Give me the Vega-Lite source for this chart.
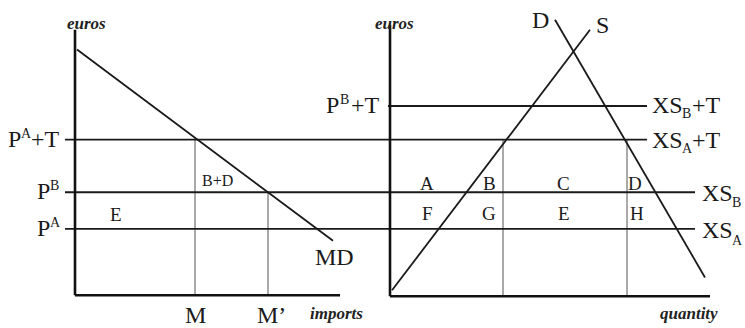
{
  "$schema": "https://vega.github.io/schema/vega-lite/v6.json",
  "width": 745,
  "height": 328,
  "autosize": {"type": "fit", "contains": "padding"},
  "padding": 0,
  "background": "white",
  "config": {"view": {"stroke": null}},
  "datasets": {
    "segments": [
      {"kind": "axis", "name": "left price axis", "x1": 75, "y1": 30, "x2": 75, "y2": 298},
      {"kind": "axis", "name": "left quantity axis", "x1": 75, "y1": 298, "x2": 340, "y2": 298},
      {"kind": "axis", "name": "right price axis", "x1": 390, "y1": 25, "x2": 390, "y2": 299},
      {"kind": "axis", "name": "right quantity axis", "x1": 390, "y1": 299, "x2": 710, "y2": 299},
      {"kind": "curve", "name": "MD", "x1": 77, "y1": 50, "x2": 333, "y2": 243},
      {"kind": "curve", "name": "PA+T", "x1": 65, "y1": 141, "x2": 647, "y2": 141},
      {"kind": "curve", "name": "PB+T", "x1": 388, "y1": 107, "x2": 647, "y2": 107},
      {"kind": "curve", "name": "PB", "x1": 65, "y1": 194, "x2": 695, "y2": 194},
      {"kind": "curve", "name": "PA", "x1": 65, "y1": 231, "x2": 695, "y2": 231},
      {"kind": "curve", "name": "S", "x1": 392, "y1": 293, "x2": 590, "y2": 30},
      {"kind": "curve", "name": "D", "x1": 555, "y1": 20, "x2": 705, "y2": 280},
      {"kind": "guide", "name": "M", "x1": 195, "y1": 141, "x2": 195, "y2": 298},
      {"kind": "guide", "name": "M'", "x1": 268, "y1": 194, "x2": 268, "y2": 298},
      {"kind": "guide", "name": "q1", "x1": 503, "y1": 141, "x2": 503, "y2": 299},
      {"kind": "guide", "name": "q2", "x1": 627, "y1": 141, "x2": 627, "y2": 299}
    ],
    "labels": [
      {"kind": "big", "t": "P", "x": 8, "y": 148},
      {"kind": "sup", "t": "A", "x": 21, "y": 139},
      {"kind": "big", "t": "+T", "x": 31, "y": 148},
      {"kind": "big", "t": "P", "x": 37, "y": 201},
      {"kind": "sup", "t": "B", "x": 50, "y": 192},
      {"kind": "big", "t": "P", "x": 37, "y": 238},
      {"kind": "sup", "t": "A", "x": 50, "y": 229},
      {"kind": "big", "t": "MD", "x": 315, "y": 267},
      {"kind": "big", "t": "M", "x": 185, "y": 326},
      {"kind": "big", "t": "M’", "x": 257, "y": 326},
      {"kind": "big", "t": "P", "x": 326, "y": 114},
      {"kind": "sup", "t": "B", "x": 340, "y": 105},
      {"kind": "big", "t": "+T", "x": 351, "y": 114},
      {"kind": "big", "t": "D", "x": 532, "y": 28},
      {"kind": "big", "t": "S", "x": 596, "y": 33},
      {"kind": "big", "t": "XS", "x": 652, "y": 114},
      {"kind": "sup", "t": "B", "x": 682, "y": 119},
      {"kind": "big", "t": "+T", "x": 692, "y": 114},
      {"kind": "big", "t": "XS", "x": 652, "y": 149},
      {"kind": "sup", "t": "A", "x": 682, "y": 154},
      {"kind": "big", "t": "+T", "x": 692, "y": 149},
      {"kind": "big", "t": "XS", "x": 702, "y": 203},
      {"kind": "sup", "t": "B", "x": 732, "y": 209},
      {"kind": "big", "t": "XS", "x": 702, "y": 240},
      {"kind": "sup", "t": "A", "x": 732, "y": 247},
      {"kind": "mid", "t": "E", "x": 110, "y": 223},
      {"kind": "mid", "t": "A", "x": 420, "y": 192},
      {"kind": "mid", "t": "B", "x": 483, "y": 192},
      {"kind": "mid", "t": "C", "x": 557, "y": 192},
      {"kind": "mid", "t": "D", "x": 628, "y": 192},
      {"kind": "mid", "t": "F", "x": 422, "y": 222},
      {"kind": "mid", "t": "G", "x": 482, "y": 222},
      {"kind": "mid", "t": "E", "x": 558, "y": 222},
      {"kind": "mid", "t": "H", "x": 630, "y": 222},
      {"kind": "small", "t": "B+D", "x": 202, "y": 188},
      {"kind": "ital", "t": "euros", "x": 67, "y": 29},
      {"kind": "ital", "t": "euros", "x": 375, "y": 29},
      {"kind": "ital", "t": "imports", "x": 310, "y": 322},
      {"kind": "ital", "t": "quantity", "x": 660, "y": 322}
    ]
  },
  "encoding": {
    "x": {"field": "x1", "type": "quantitative", "scale": {"domain": [0, 745], "nice": false, "zero": false}, "axis": null},
    "y": {"field": "y1", "type": "quantitative", "scale": {"domain": [0, 328], "nice": false, "zero": false, "reverse": true}, "axis": null}
  },
  "layer": [
    {
      "data": {"name": "segments"},
      "transform": [{"filter": "datum.kind === 'guide'"}],
      "mark": {"type": "rule", "strokeWidth": 1, "color": "#555"},
      "encoding": {"x2": {"field": "x2"}, "y2": {"field": "y2"}}
    },
    {
      "data": {"name": "segments"},
      "transform": [{"filter": "datum.kind === 'curve'"}],
      "mark": {"type": "rule", "strokeWidth": 1.8, "color": "#1a1a1a"},
      "encoding": {"x2": {"field": "x2"}, "y2": {"field": "y2"}}
    },
    {
      "data": {"name": "segments"},
      "transform": [{"filter": "datum.kind === 'axis'"}],
      "mark": {"type": "rule", "strokeWidth": 2.6, "color": "#111"},
      "encoding": {"x2": {"field": "x2"}, "y2": {"field": "y2"}}
    },
    {
      "data": {"name": "labels"},
      "transform": [{"filter": "datum.kind === 'big'"}],
      "mark": {"type": "text", "align": "left", "baseline": "alphabetic", "font": "Liberation Serif", "fontSize": 24, "color": "#1a1a1a"},
      "encoding": {"x": {"field": "x", "type": "quantitative"}, "y": {"field": "y", "type": "quantitative"}, "text": {"field": "t"}}
    },
    {
      "data": {"name": "labels"},
      "transform": [{"filter": "datum.kind === 'sup'"}],
      "mark": {"type": "text", "align": "left", "baseline": "alphabetic", "font": "Liberation Serif", "fontSize": 14, "color": "#1a1a1a"},
      "encoding": {"x": {"field": "x", "type": "quantitative"}, "y": {"field": "y", "type": "quantitative"}, "text": {"field": "t"}}
    },
    {
      "data": {"name": "labels"},
      "transform": [{"filter": "datum.kind === 'mid'"}],
      "mark": {"type": "text", "align": "left", "baseline": "alphabetic", "font": "Liberation Serif", "fontSize": 19, "color": "#1a1a1a"},
      "encoding": {"x": {"field": "x", "type": "quantitative"}, "y": {"field": "y", "type": "quantitative"}, "text": {"field": "t"}}
    },
    {
      "data": {"name": "labels"},
      "transform": [{"filter": "datum.kind === 'small'"}],
      "mark": {"type": "text", "align": "left", "baseline": "alphabetic", "font": "Liberation Serif", "fontSize": 16, "color": "#1a1a1a"},
      "encoding": {"x": {"field": "x", "type": "quantitative"}, "y": {"field": "y", "type": "quantitative"}, "text": {"field": "t"}}
    },
    {
      "data": {"name": "labels"},
      "transform": [{"filter": "datum.kind === 'ital'"}],
      "mark": {"type": "text", "align": "left", "baseline": "alphabetic", "font": "Liberation Serif", "fontSize": 17, "fontStyle": "italic", "fontWeight": "bold", "color": "#222"},
      "encoding": {"x": {"field": "x", "type": "quantitative"}, "y": {"field": "y", "type": "quantitative"}, "text": {"field": "t"}}
    }
  ]
}
